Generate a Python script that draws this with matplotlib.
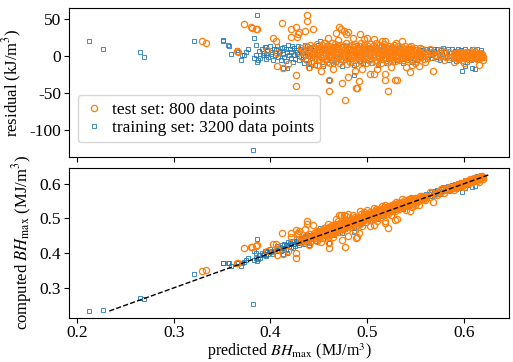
import numpy as np
import matplotlib
matplotlib.use("Agg")
import matplotlib.pyplot as plt

plt.rcParams['font.family'] = ['Liberation Serif', 'DejaVu Serif']
plt.rcParams['mathtext.fontset'] = 'stix'
plt.rcParams['axes.unicode_minus'] = False
plt.rcParams['font.size'] = 12.5

# test set: predicted BHmax (MJ/m^3) and residual (kJ/m^3)
test_out_pred = [
    0.329, 0.333, 0.366, 0.367, 0.373, 0.381, 0.385, 0.380, 0.386, 0.397, 0.403, 0.406,
    0.407, 0.407, 0.412, 0.413, 0.418, 0.421, 0.421, 0.426, 0.426, 0.427, 0.428, 0.429,
    0.430, 0.436, 0.438, 0.438, 0.444, 0.448, 0.461, 0.461, 0.468, 0.471, 0.473, 0.474,
    0.476, 0.477, 0.478, 0.480, 0.480, 0.485, 0.488, 0.490, 0.492, 0.493, 0.497, 0.503,
    0.507, 0.507, 0.518, 0.519, 0.519, 0.522, 0.529, 0.531, 0.536, 0.544, 0.546, 0.554,
    0.555, 0.568, 0.576, 0.600, 0.616, 0.440, 0.452, 0.455, 0.460, 0.465, 0.470, 0.487,
    0.495, 0.500, 0.510, 0.515, 0.525, 0.530, 0.540, 0.545, 0.550, 0.560, 0.565, 0.580,
    0.585, 0.590, 0.610, 0.620,
]
test_out_resid = [
    20, 18, 7, 6, 43, 38, 36, 39, 37, 8, 24, 21,
    4, -13, 45, -16, -11, 37, 26, -26, -41, 40, 26, 30,
    33, 34, 56, 47, 37, -12, -47, -32, 31, 40, 36, -37,
    34, -60, 30, 32, -29, 24, -43, -44, -34, 30, 23, -24,
    23, -25, -25, 21, -32, -48, -32, -32, 21, -22, -12, -14,
    11, -20, 8, -9, -12, -15, -20, 18, 25, -18, 22, -20,
    -18, 25, -18, 20, -15, 18, -15, 14, -10, -8, 10, -6,
    6, -8, 8, -5,
]
test_core_pred = [
    0.4305, 0.4318, 0.4331, 0.4342, 0.4356, 0.4364, 0.4377, 0.4389, 0.4396, 0.4408,
    0.4415, 0.4423, 0.4437, 0.4441, 0.4452, 0.4460, 0.4468, 0.4479, 0.4486, 0.4494,
    0.4503, 0.4507, 0.4514, 0.4516, 0.4522, 0.4529, 0.4531, 0.4538, 0.4542, 0.4549,
    0.4553, 0.4557, 0.4564, 0.4568, 0.4573, 0.4579, 0.4584, 0.4588, 0.4595, 0.4598,
    0.4604, 0.4609, 0.4612, 0.4618, 0.4623, 0.4627, 0.4635, 0.4638, 0.4643, 0.4649,
    0.4652, 0.4658, 0.4661, 0.4667, 0.4673, 0.4676, 0.4684, 0.4687, 0.4692, 0.4698,
    0.4702, 0.4708, 0.4711, 0.4719, 0.4722, 0.4728, 0.4733, 0.4737, 0.4744, 0.4747,
    0.4753, 0.4756, 0.4762, 0.4769, 0.4772, 0.4777, 0.4783, 0.4788, 0.4791, 0.4797,
    0.4801, 0.4806, 0.4813, 0.4817, 0.4821, 0.4828, 0.4832, 0.4839, 0.4843, 0.4846,
    0.4852, 0.4858, 0.4863, 0.4866, 0.4874, 0.4878, 0.4882, 0.4887, 0.4893, 0.4899,
    0.4903, 0.4907, 0.4914, 0.4918, 0.4924, 0.4927, 0.4933, 0.4939, 0.4942, 0.4948,
    0.4951, 0.4957, 0.4962, 0.4968, 0.4971, 0.4976, 0.4984, 0.4987, 0.4993, 0.4996,
    0.5002, 0.5008, 0.5013, 0.5016, 0.5022, 0.5027, 0.5031, 0.5038, 0.5043, 0.5047,
    0.5053, 0.5058, 0.5061, 0.5067, 0.5074, 0.5077, 0.5082, 0.5088, 0.5091, 0.5098,
    0.5103, 0.5106, 0.5112, 0.5119, 0.5123, 0.5128, 0.5132, 0.5137, 0.5144, 0.5148,
    0.5152, 0.5158, 0.5163, 0.5167, 0.5172, 0.5179, 0.5183, 0.5186, 0.5194, 0.5197,
    0.5203, 0.5207, 0.5212, 0.5218, 0.5224, 0.5227, 0.5233, 0.5238, 0.5241, 0.5247,
    0.5252, 0.5256, 0.5263, 0.5268, 0.5271, 0.5277, 0.5283, 0.5286, 0.5292, 0.5298,
    0.5302, 0.5308, 0.5313, 0.5317, 0.5322, 0.5326, 0.5334, 0.5338, 0.5343, 0.5347,
    0.5352, 0.5359, 0.5362, 0.5368, 0.5373, 0.5377, 0.5384, 0.5388, 0.5392, 0.5397,
    0.5404, 0.5411, 0.5417, 0.5425, 0.5431, 0.5438, 0.5446, 0.5452, 0.5458, 0.5466,
    0.5472, 0.5479, 0.5487, 0.5493, 0.5499, 0.5507, 0.5514, 0.5521, 0.5528, 0.5536,
    0.5543, 0.5551, 0.5558, 0.5566, 0.5574, 0.5583, 0.5592, 0.5601,
    0.5623, 0.5648, 0.5672, 0.5697, 0.5718, 0.5744, 0.5769, 0.5792, 0.5818, 0.5846,
    0.5872, 0.5894,
    0.5903, 0.5911, 0.5917, 0.5924, 0.5931, 0.5936, 0.5943, 0.5949, 0.5956, 0.5962,
    0.5968, 0.5974, 0.5981, 0.5987, 0.5993, 0.5998, 0.6004, 0.6011, 0.6017, 0.6022,
    0.6028, 0.6035, 0.6041, 0.6046, 0.6053, 0.6059, 0.6064, 0.6071, 0.6077, 0.6082,
    0.6089, 0.6094, 0.6101, 0.6107, 0.6112, 0.6119, 0.6124, 0.6131, 0.6137, 0.6142,
    0.6149, 0.6155, 0.6161, 0.6168, 0.6174, 0.6181, 0.6188, 0.6195,
]
test_core_resid = [
    6, 11, -2, 8, 3, 13, -5, 9, 1, 15,
    5, -7, 10, 2, 12, -3, 7, 16, 0, 9,
    4, -6, 12, 7, -1, 15, 3, 9, -9, 6,
    11, 0, 17, -4, 8, 2, 13, -8, 5, 10,
    -2, 14, 6, -10, 9, 3, 18, 1, -5, 11,
    7, -3, 12, 4, 16, -7, 2, 9, -1, 13,
    5, -9, 10, 0, 15, 6, -4, 12, 3, 8,
    -6, 14, 1, 9, -2, 17, 5, -11, 11, 4,
    8, -1, 13, 3, -8, 10, 6, 15, -3, 2,
    12, -5, 7, 0, 16, 4, -9, 9, 1, 11,
    -3, 6, 14, 2, -7, 10, 5, 18, -1, 8,
    3, 12, -4, 7, 15, 0, 9, -10, 5, 11,
    -2, 8, 13, 4, -6, 16, 1, 10, -8, 6,
    9, -1, 14, 3, 7, -5, 12, 0, 17, 5,
    -7, 10, 2, 15, 6, -3, 11, 4, -9, 8,
    13, 1, -4, 9, 5, 16, -1, 7, 12, -6,
    3, 10, -8, 6, 14, 0, 8, -3, 11, 4,
    -5, 12, 2, 9, -1, 15, 5, -7, 7, 1,
    10, -3, 6, 13, 0, 8, -6, 4, 11, 2,
    7, -2, 12, 3, -5, 9, 1, 14, 5, -1,
    4, -4, 9, 1, 12, -2, 6, 0, 10, 3,
    -5, 7, 2, 11, -1, 5, 8, -3, 4, 1,
    6, -2, 3, 9, 0, 5, -4, 2,
    3, -2, 6, 1, -3, 4, 0, 5, -1, 3,
    -2, 2,
    1, -3, 4, -1, 2, 5, -4, 0, 3, -2,
    6, 1, -5, 2, 4, -1, 0, 3, -3, 5,
    1, -2, 4, 0, -4, 2, 6, -1, 3, -3,
    1, 4, -2, 0, 5, -1, 2, -4, 3, 0,
    -2, 4, 1, -3, 2, 0, 3, -1,
]

# training set
train_out_pred = [
    0.2125, 0.227, 0.265, 0.269, 0.321, 0.351, 0.351, 0.356, 0.357, 0.359, 0.365, 0.367,
    0.370, 0.371, 0.373, 0.375, 0.377, 0.382, 0.383, 0.383, 0.385, 0.386, 0.386, 0.385,
    0.387, 0.395, 0.395, 0.413, 0.417, 0.440, 0.451, 0.461, 0.486, 0.598, 0.601, 0.608,
    0.612, 0.597, 0.569,
]
train_out_resid = [
    21, 10, 6, -2, 20, 21, 22, 15, 14, 3, 8, 6,
    -6, 2, 2, 5, 9, -128, 24, -3, 15, 55, -8, 2,
    -5, 12, 1, -16, -16, -16, 21, -32, -26, -21, -14, -16,
    -17, 8, 9,
]
train_core_pred = [
    0.3884, 0.3897, 0.3912, 0.3921, 0.3936, 0.3948, 0.3957, 0.3969, 0.3978, 0.3991,
    0.4003, 0.4012, 0.4024, 0.4033, 0.4047, 0.4055, 0.4068, 0.4077, 0.4089, 0.4096,
    0.4108, 0.4117, 0.4126, 0.4138, 0.4144, 0.4157, 0.4163, 0.4175, 0.4182, 0.4194,
    0.4201, 0.4209, 0.4218, 0.4224, 0.4233, 0.4241, 0.4247, 0.4256, 0.4262, 0.4271,
    0.4278, 0.4284, 0.4293, 0.4299, 0.4306, 0.4314, 0.4319, 0.4327, 0.4333, 0.4342,
    0.4348, 0.4355, 0.4361, 0.4368, 0.4374, 0.4382, 0.4387, 0.4395, 0.4401, 0.4408,
    0.4416, 0.4432, 0.4447, 0.4461, 0.4478, 0.4489, 0.4503, 0.4521, 0.4536, 0.4548,
    0.4567, 0.4581, 0.4596, 0.4612, 0.4629, 0.4643, 0.4658, 0.4674, 0.4687, 0.4705,
    0.4719, 0.4736, 0.4752, 0.4768, 0.4783, 0.4797, 0.4814, 0.4829, 0.4846, 0.4861,
    0.4877, 0.4893, 0.4908, 0.4924, 0.4941, 0.4956, 0.4972, 0.4987, 0.5004, 0.5019,
    0.5035, 0.5052, 0.5067, 0.5083, 0.5098, 0.5114, 0.5131, 0.5146, 0.5162, 0.5178,
    0.5193, 0.5209, 0.5226, 0.5241, 0.5257, 0.5272, 0.5288, 0.5304, 0.5321, 0.5336,
    0.5352, 0.5368, 0.5383, 0.5399, 0.5416, 0.5431, 0.5447, 0.5463, 0.5478, 0.5494,
    0.5511, 0.5526, 0.5542, 0.5558,
    0.5573, 0.5586, 0.5598, 0.5611, 0.5623, 0.5637, 0.5648, 0.5662, 0.5674, 0.5687,
    0.5699, 0.5712, 0.5724, 0.5738, 0.5749, 0.5763, 0.5775, 0.5788, 0.5801, 0.5813,
    0.5826, 0.5838, 0.5851, 0.5863, 0.5876, 0.5889, 0.5901, 0.5912, 0.5924, 0.5937,
    0.5948, 0.5961, 0.5973, 0.5986, 0.5997, 0.6009, 0.6021, 0.6034, 0.6046, 0.6058,
    0.6069, 0.6082, 0.6094, 0.6106, 0.6118, 0.6131, 0.6143, 0.6155, 0.6167, 0.6179,
    0.6188,
]
train_core_resid = [
    7, -3, 10, 2, 4, 12, -4, 8, -1, 13,
    3, 6, -6, 10, 1, 9, 14, -2, 5, 7,
    -5, 11, 3, 12, -1, 9, -7, 5, 15, 2,
    10, -3, 6, 13, -8, 1, 11, -4, 8, 3,
    5, 14, -6, 0, 9, -2, 12, 4, 1, 7,
    -9, 15, 10, -5, 3, 13, 6, -10, 0, 11,
    12, -3, 8, -12, 2, 15, -7, 6, 9, -13,
    4, -5, 11, 1, 7, -11, 14, -8, 3, 12,
    5, -14, 9, -6, 13, 0, 10, -9, 4, -12,
    6, 15, 2, -7, 11, -10, 8, 3, -5, 12,
    0, -9, 5, 14, 3, -12, 8, -6, 10, 1,
    -10, 4, 7, -3, 12, -8, 9, -5, 6, 11,
    1, -9, 3, 7, -6, 9, -3, -8, 2, 10,
    -5, 5, 8, -2,
    8, -2, 5, 10, -4, 6, 1, 9, -3, 7,
    4, -1, 10, 2, -5, 8, 3, 11, -2, 6,
    0, 9, -6, 4, 10, 1, -4, 7, -7, 9,
    2, -3, 8, 5, -2, 10, 0, -8, 6, 3,
    -5, 9, 1, -4, 7, 10, 2, -6, 5, 8,
    -2,
]

test_pred = np.array(test_out_pred + test_core_pred)
test_resid = np.array(test_out_resid + test_core_resid, dtype=float)
train_pred = np.array(train_out_pred + train_core_pred)
train_resid = np.array(train_out_resid + train_core_resid, dtype=float)
# computed = predicted + residual (kJ -> MJ)
test_comp = test_pred + test_resid / 1000.0
train_comp = train_pred + train_resid / 1000.0

blue = '#1f77b4'
orange = '#ff7f0e'

fig = plt.figure(figsize=(5.13, 3.62), dpi=100)
ax1 = fig.add_axes([0.1345, 0.566, 0.8575, 0.412])
ax2 = fig.add_axes([0.1345, 0.122, 0.8575, 0.414], sharex=ax1)

for ax, ty, ry in [(ax1, test_resid, train_resid), (ax2, test_comp, train_comp)]:
    ax.plot(train_pred, ry, 's', ms=2.8, mfc='none', mec=blue, mew=0.7, alpha=0.85,
            label='training set: 3200 data points')
    ax.plot(test_pred, ty, 'o', ms=4.5, mfc='none', mec=orange, mew=0.9,
            label='test set: 800 data points')

all_comp = np.concatenate([test_comp, train_comp])
ax2.plot([all_comp.min(), all_comp.max()], [all_comp.min(), all_comp.max()],
         'k--', lw=1.0)

h, l = ax1.get_legend_handles_labels()
ax1.legend(h[::-1], l[::-1], loc='lower left', bbox_to_anchor=(0.0, 0.04),
           fontsize=12.5, handletextpad=0.4, handlelength=1.2, borderpad=0.35,
           labelspacing=0.15)

ax1.set_ylabel('residual (kJ/m$^3$)', fontsize=12)
ax2.set_ylabel(r'computed $BH_{\mathrm{max}}$ (MJ/m$^3$)', fontsize=12)
ax2.set_xlabel(r'predicted $BH_{\mathrm{max}}$ (MJ/m$^3$)', fontsize=11.5)
ax2.xaxis.set_label_coords(0.5, -0.155)
ax1.set_yticks([50, 0, -50, -100])
ax2.set_yticks([0.3, 0.4, 0.5, 0.6])
ax2.set_xticks([0.2, 0.3, 0.4, 0.5, 0.6])
ax1.tick_params(labelbottom=False, pad=2)
ax2.tick_params(pad=2)
fig.align_ylabels([ax1, ax2])

plt.savefig('out.png', dpi=100)
